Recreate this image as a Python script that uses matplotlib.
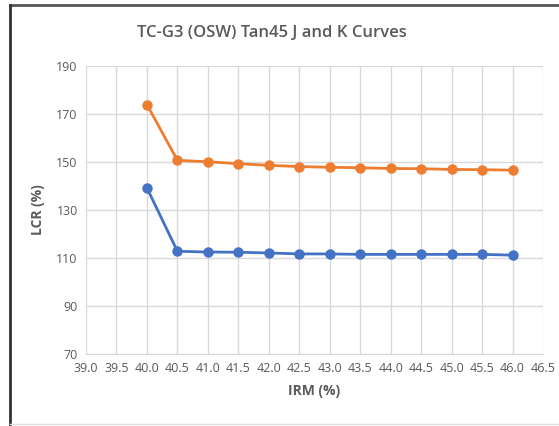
import matplotlib
matplotlib.use("Agg")
import matplotlib.pyplot as plt
from matplotlib.lines import Line2D

irm = [40.0, 40.5, 41.0, 41.5, 42.0, 42.5, 43.0, 43.5, 44.0, 44.5, 45.0, 45.5, 46.0]
j_curve = [139.2, 112.8, 112.5, 112.4, 112.1, 111.7, 111.7, 111.5, 111.5, 111.5, 111.5, 111.5, 111.2]
k_curve = [173.9, 150.7, 150.1, 149.3, 148.6, 148.1, 147.8, 147.6, 147.3, 147.2, 146.9, 146.8, 146.6]
xticks = [39.0 + 0.5 * i for i in range(16)]
yticks = [70, 90, 110, 130, 150, 170, 190]

W, H = 559, 426
fig = plt.figure(figsize=(W / 100, H / 100), dpi=100)
plt.rcParams['font.family'] = ['Open Sans', 'DejaVu Sans']

ax = fig.add_axes([86 / W, 1 - 354 / H, (543 - 86) / W, (354 - 66) / H])
ax.plot(irm, j_curve, color='#4472C4', marker='o', markersize=6.5, linewidth=2)
ax.plot(irm, k_curve, color='#ED7D31', marker='o', markersize=6.5, linewidth=2)

ax.set_xlim(39.0, 46.5)
ax.set_ylim(70, 190)
ax.set_xticks(xticks)
ax.set_xticklabels([f"{v:.1f}" for v in xticks])
ax.set_yticks(yticks)
ax.grid(True, color='#D9D9D9', linewidth=1)
ax.set_axisbelow(True)
for s in ax.spines.values():
    s.set_visible(False)
ax.spines['bottom'].set_visible(True)
ax.spines['bottom'].set_color('#D9D9D9')
ax.tick_params(length=0, colors='#595959', labelsize=9, pad=6)
ax.set_xlabel('IRM (%)', color='#595959', fontsize=10, fontweight='bold', labelpad=6)
ax.set_ylabel('LCR (%)', color='#595959', fontsize=10, fontweight='bold', labelpad=8)

fig.text(272 / W, 1 - 33 / H, 'TC-G3 (OSW) Tan45 J and K Curves', ha='center', va='center',
         fontsize=12, color='#595959', fontweight='semibold')

# outer frame
fig.add_artist(Line2D([10 / W, 1], [1 - 5 / H, 1 - 5 / H], transform=fig.transFigure, color='#555555', linewidth=2))
fig.add_artist(Line2D([10 / W, 10 / W], [0, 1 - 5 / H], transform=fig.transFigure, color='#333333', linewidth=2))
fig.add_artist(Line2D([10 / W, 1], [2 / H, 2 / H], transform=fig.transFigure, color='#E0E0E0', linewidth=1))

fig.savefig('out.png', dpi=100)
